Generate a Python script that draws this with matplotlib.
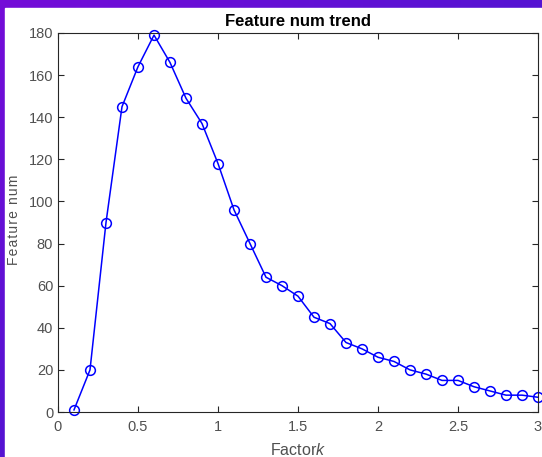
import numpy as np
import matplotlib
matplotlib.use("Agg")
import matplotlib.pyplot as plt
from matplotlib.patches import Rectangle

plt.rcParams['font.family'] = ['Liberation Sans', 'DejaVu Sans']
plt.rcParams['mathtext.fontset'] = 'custom'
plt.rcParams['mathtext.rm'] = 'Liberation Sans'
plt.rcParams['mathtext.it'] = 'Liberation Sans:italic'

# Datos
factor_k = [0.1, 0.2, 0.3, 0.4, 0.5, 0.6, 0.7, 0.8, 0.9, 1.0,
            1.1, 1.2, 1.3, 1.4, 1.5, 1.6, 1.7, 1.8, 1.9, 2.0,
            2.1, 2.2, 2.3, 2.4, 2.5, 2.6, 2.7, 2.8, 2.9, 3.0]
feature_num = [1, 20, 90, 145, 164, 179, 166, 149, 137, 118,
               96, 80, 64, 60, 55, 45, 42, 33, 30, 26,
               24, 20, 18, 15, 15, 12, 10, 8, 8, 7]
x_ticks = [0, 0.5, 1, 1.5, 2, 2.5, 3]
x_tick_labels = ["0", "0.5", "1", "1.5", "2", "2.5", "3"]
y_ticks = [0, 20, 40, 60, 80, 100, 120, 140, 160, 180]

W, H = 542, 457
fig = plt.figure(figsize=(W / 100, H / 100), dpi=100)

# Marco morado/azul de fondo
bg = fig.add_axes([0, 0, 1, 1])
yy, xx = np.mgrid[0:1:100j, 0:1:100j]
t = np.clip(0.5 * (xx + yy), 0, 1)
c0 = np.array([0x74, 0x0c, 0xd8]) / 255
c1 = np.array([0x36, 0x1a, 0xcc]) / 255
grad = c0[None, None, :] * (1 - t[..., None]) + c1[None, None, :] * t[..., None]
bg.imshow(grad, extent=[0, 1, 0, 1], aspect='auto', origin='upper')
bg.add_patch(Rectangle((5 / W, 0), 1, 1 - 8 / H, color='white'))
bg.set_xlim(0, 1)
bg.set_ylim(0, 1)
bg.set_axis_off()

ax = fig.add_axes([58 / W, (H - 412) / H, (538 - 58) / W, (412 - 33) / H])
ax.plot(factor_k, feature_num, color='#0000ff', linewidth=1.1,
        marker='o', markersize=7, markerfacecolor='none',
        markeredgecolor='#0000ff', markeredgewidth=1.1, clip_on=False)

ax.set_xlim(0, 3)
ax.set_ylim(0, 180)
ax.set_xticks(x_ticks)
ax.set_xticklabels(x_tick_labels)
ax.set_yticks(y_ticks)
ax.tick_params(direction='in', top=True, right=True, length=4, width=0.8,
               colors='#262626', labelsize=10.5, labelcolor='#505050')
ax.tick_params(axis='x', pad=5.5)
ax.tick_params(axis='y', pad=3.5)
for s in ax.spines.values():
    s.set_color('#262626')
    s.set_linewidth(0.8)

ax.text(0.5, (412 - 21) / 379, "Feature num trend", transform=ax.transAxes,
        ha='center', va='center', fontsize=12, fontweight='bold', color='black')
ax.set_xlabel("Factor$\\it{k}$", fontsize=11.5, color='#505050')
ax.xaxis.label.set_va('center')
ax.xaxis.set_label_coords(0.5, (412 - 450) / 379)
ax.set_ylabel("\u200a".join("Feature num"), fontsize=10, color='#505050')
ax.yaxis.label.set_va('center')
ax.yaxis.set_label_coords((14 - 58) / 480, (412 - 220) / 379)

fig.savefig("out.png", dpi=100)
